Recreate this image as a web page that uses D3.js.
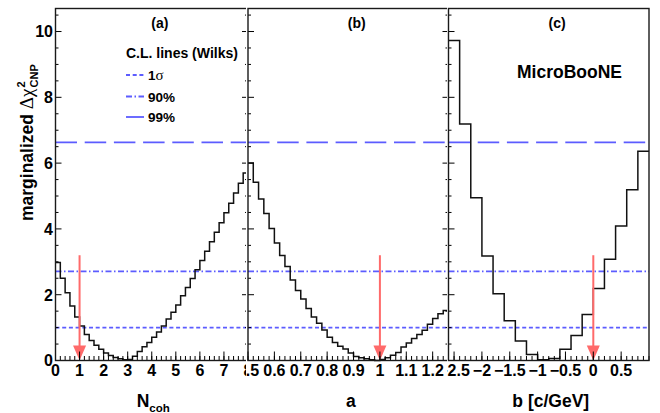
<!DOCTYPE html>
<html><head><meta charset="utf-8">
<script src="https://cdn.jsdelivr.net/npm/d3@7"></script>
<style>
body{margin:0;background:#fff}
svg text{font-family:"Liberation Sans",Arial,Helvetica,sans-serif;font-weight:bold;fill:#000}
</style>
</head><body>
<svg id="chart" width="660" height="413"></svg>
<script>
// ---- data ----
const nCohValues = [2.98, 2.50, 2.06, 1.66, 1.32, 1.05, 0.79, 0.61, 0.46, 0.34,
                    0.23, 0.15, 0.09, 0.05, 0.02, 0.03, 0.13, 0.27, 0.42, 0.55,
                    0.71, 0.87, 1.05, 1.26, 1.47, 1.69, 1.97, 2.22, 2.49, 2.76,
                    3.04, 3.32, 3.61, 3.90, 4.19, 4.49, 4.78, 5.09, 5.39, 5.70];
const aValues = [6.00, 5.42, 4.91, 4.47, 4.01, 3.57, 3.19, 2.86, 2.45, 2.13,
                 1.87, 1.58, 1.32, 1.13, 0.93, 0.71, 0.55, 0.43, 0.35, 0.23,
                 0.12, 0.08, 0.05, 0.02, 0.00, 0.03, 0.08, 0.16, 0.24, 0.41,
                 0.53, 0.67, 0.79, 0.92, 1.10, 1.28, 1.42, 1.52];
const bValues = [9.73, 7.19, 4.95, 3.18, 2.03, 1.21, 0.59, 0.18, 0.02, 0.06,
                 0.34, 0.76, 1.40, 2.19, 3.08, 4.09, 5.19, 6.36];
const nCohBins = {start: 0, width: 0.2};
const aBins = {start: 0.5, width: 0.02};
const bBins = {start: -2.6, width: 0.2};
const nCohTicks = [0, 1, 2, 3, 4, 5, 6, 7, 8];
const aTicks = [0.5, 0.6, 0.7, 0.8, 0.9, 1, 1.1, 1.2];
const bTicks = [-2.5, -2, -1.5, -1, -0.5, 0, 0.5];
const yTicks = [0, 2, 4, 6, 8, 10];
const clLevels = [1.0, 2.71, 6.63];
const clNames = ["1", "90%", "99%"];
const bestFit = [1, 1, 0];
const arrowTop = 3.2;
const panelLetters = ["(a)", "(b)", "(c)"];

// ---- layout ----
const svg = d3.select("#chart");
const yTop = 8.5, yBot = 360.5;
const y = d3.scaleLinear([0, 10.7], [yBot, yTop]);
const blue = "#5c5cff", red = "#ff6a6a";
const clDash = ["4,2.7", "6,2.5,1.5,2.5", "21.5,7.7"];

const panels = [
  {domain:[0, 8], range:[55.5, 248], bins:nCohBins, values:nCohValues, major:nCohTicks, minorStep:0.2, clip:[0, 246], rightTicks:true},
  {domain:[0.5, 1.26], range:[248, 448.5], bins:aBins, values:aValues, major:aTicks, minorStep:0.02, clip:[246, 447], rightTicks:true},
  {domain:[-2.6, 1.0], range:[448.5, 649], bins:bBins, values:bValues, major:bTicks, minorStep:0.1, clip:[447, 660], rightTicks:false}
];

const defs = svg.append("defs");
panels.forEach((p, i) => {
  defs.append("clipPath").attr("id", "clip" + i).append("rect")
    .attr("x", p.clip[0]).attr("y", 0).attr("width", p.clip[1] - p.clip[0]).attr("height", 413);
});

const fmt = v => String(+v.toFixed(2)).replace("-", "\u2212");

panels.forEach((p, i) => {
  const g = svg.append("g").attr("clip-path", `url(#clip${i})`);
  const x = d3.scaleLinear(p.domain, p.range);
  const [x0, x1] = p.range;

  // CL lines
  clLevels.forEach((lv, k) => {
    g.append("line").attr("x1", x0).attr("x2", x1).attr("y1", y(lv)).attr("y2", y(lv))
      .attr("stroke", blue).attr("stroke-width", 1.8).attr("stroke-dasharray", clDash[k]);
  });

  // histogram (step outline)
  const path = d3.path();
  p.values.forEach((v, k) => {
    const a = x(p.bins.start + k * p.bins.width), b = x(p.bins.start + (k + 1) * p.bins.width);
    if (k === 0) path.moveTo(a, y(v)); else path.lineTo(a, y(v));
    path.lineTo(b, y(v));
  });
  g.append("path").attr("d", path.toString()).attr("fill", "none")
    .attr("stroke", "#111").attr("stroke-width", 1.5);

  // arrow at best fit
  const bx = x(bestFit[i]);
  g.append("line").attr("x1", bx).attr("x2", bx).attr("y1", y(arrowTop)).attr("y2", y(0) - 12)
    .attr("stroke", red).attr("stroke-width", 2);
  g.append("path").attr("d", d3.line()([[bx - 6.5, y(0) - 15], [bx + 6.5, y(0) - 15], [bx, y(0)]]) + "Z")
    .attr("fill", red);

  // x ticks
  const minors = d3.range(0, Math.round((p.domain[1] - p.domain[0]) / p.minorStep) + 1)
    .map(k => p.domain[0] + k * p.minorStep);
  g.selectAll(null).data(minors).join("line")
    .attr("x1", d => x(d)).attr("x2", d => x(d)).attr("y1", yBot).attr("y2", yBot - 4.5)
    .attr("stroke", "#000").attr("stroke-width", 1);
  g.selectAll(null).data(p.major).join("line")
    .attr("x1", d => x(d)).attr("x2", d => x(d)).attr("y1", yBot).attr("y2", yBot - 9)
    .attr("stroke", "#000").attr("stroke-width", 1);
  g.selectAll(null).data(p.major).join("text")
    .attr("x", d => x(d)).attr("y", 375.5).attr("text-anchor", "middle")
    .attr("font-size", 16).text(fmt);

  // y ticks
  const yMinor = d3.range(0, 22).map(k => k * 0.5);
  const sides = [[x0, 1]];
  if (p.rightTicks) sides.push([x1, -1]);
  sides.forEach(([sx, dir]) => {
    g.selectAll(null).data(yMinor).join("line")
      .attr("x1", sx).attr("x2", d => sx + dir * (d % 2 === 0 ? 6 : 3))
      .attr("y1", d => y(d)).attr("y2", d => y(d))
      .attr("stroke", "#000").attr("stroke-width", 1);
  });

  // frame
  g.append("rect").attr("x", x0).attr("y", yTop).attr("width", x1 - x0).attr("height", yBot - yTop)
    .attr("fill", "none").attr("stroke", "#1a1a1a").attr("stroke-width", 1.4);

  // panel letter
  g.append("text").attr("x", x0 + 0.542 * (x1 - x0)).attr("y", 28).attr("text-anchor", "middle")
    .attr("font-size", 14).text(panelLetters[i]);

  p.g = g; p.x = x;
});

// y axis labels (panel a)
const ga = panels[0].g;
ga.selectAll(null).data(yTicks).join("text")
  .attr("x", 53).attr("y", d => y(d) + 5.8).attr("text-anchor", "end")
  .attr("font-size", 16).text(d => d);

// y title
const yt = ga.append("g").attr("transform", "translate(33,221) rotate(-90)");
const yMain = yt.append("text").attr("x", 0).attr("y", 0).attr("font-size", 17.5);
yMain.append("tspan").text("marginalized ");
yMain.append("tspan").attr("font-family", "'Liberation Serif','DejaVu Serif',serif")
  .attr("font-weight", "normal").attr("font-size", 19).text("\u0394\u03C7");
const L = yMain.node().getComputedTextLength();
yt.append("text").attr("x", L + 1).attr("y", -8).attr("font-size", 11).text("2");
yt.append("text").attr("x", L + 1).attr("y", 4.5).attr("font-size", 11).text("CNP");

// x titles
const cA = (panels[0].range[0] + panels[0].range[1]) / 2 + 1.5;
const tN = ga.append("text").attr("x", cA).attr("y", 407).attr("text-anchor", "middle").attr("font-size", 17.5);
tN.append("tspan").text("N");
tN.append("tspan").attr("font-size", 11.5).attr("dy", 4.5).text("coh");
panels[1].g.append("text").attr("x", (panels[1].range[0] + panels[1].range[1]) / 2 + 2.5)
  .attr("y", 407).attr("text-anchor", "middle").attr("font-size", 17.5).text("a");
panels[2].g.append("text").attr("x", (panels[2].range[0] + panels[2].range[1]) / 2 + 2)
  .attr("y", 407).attr("text-anchor", "middle").attr("font-size", 17.5).text("b [c/GeV]");

// legend (panel a)
ga.append("text").attr("x", 126).attr("y", 58).attr("font-size", 14).text("C.L. lines (Wilks)");
const legY = [75, 96.5, 117];
clNames.forEach((nm, k) => {
  ga.append("line").attr("x1", 126).attr("x2", 144).attr("y1", legY[k]).attr("y2", legY[k])
    .attr("stroke", blue).attr("stroke-width", 1.8).attr("stroke-dasharray", clDash[k]);
  const t = ga.append("text").attr("x", 148).attr("y", legY[k] + 5).attr("font-size", 13.5);
  t.append("tspan").text(nm);
  if (k === 0) t.append("tspan").attr("font-family", "'Liberation Serif','DejaVu Serif',serif")
    .attr("font-weight", "normal").attr("font-size", 15).text("\u03C3");
});

// experiment label
panels[2].g.append("text").attr("x", 517).attr("y", 78).attr("font-size", 17.5).text("MicroBooNE");
</script>
</body></html>
